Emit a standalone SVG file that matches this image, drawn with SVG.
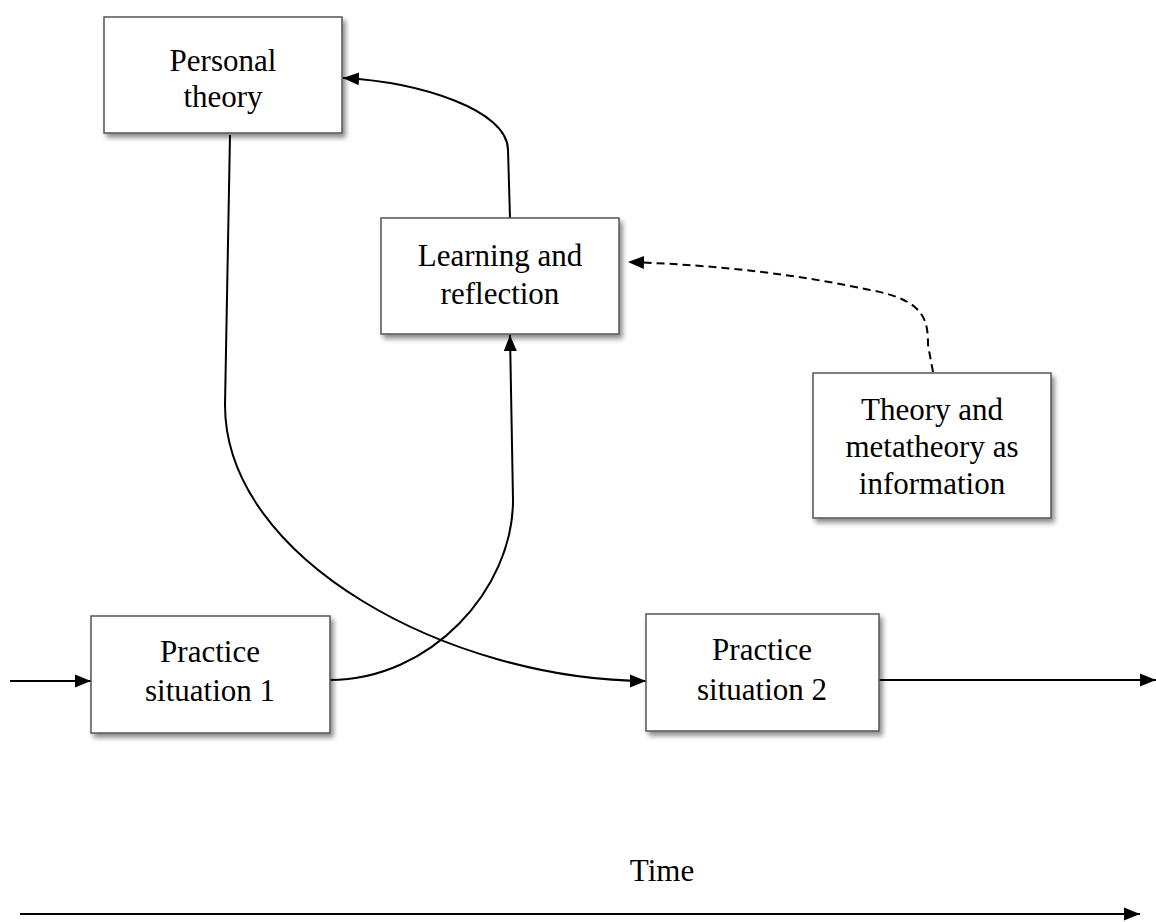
<svg xmlns="http://www.w3.org/2000/svg" width="1156" height="922" viewBox="0 0 1156 922">
<style>
.box{fill:#fff;stroke:#555;stroke-width:1.5;filter:url(#sh)}
.t{font-family:"Liberation Serif","Times New Roman",serif;font-size:31px;fill:#000;text-anchor:middle}
.c{fill:none;stroke:#000;stroke-width:2}
.d{stroke-dasharray:8,5}
</style>
<defs>
<filter id="sh" x="-10%" y="-10%" width="125%" height="130%">
<feDropShadow dx="3" dy="4" stdDeviation="2.5" flood-color="#000" flood-opacity="0.45"/>
</filter>
<marker id="ahb" viewBox="0 0 16 14" refX="16" refY="7" markerWidth="16" markerHeight="14" markerUnits="userSpaceOnUse" orient="auto">
<path d="M0,0.5 L16,7 L0,13.5 z" fill="#000"/>
</marker>
</defs>
<g id="connectors">
<path class="c" d="M10,681 L91,681" marker-end="url(#ahb)"/>
<path class="c" d="M879,680 L1156,680" marker-end="url(#ahb)"/>
<path class="c" d="M330,680 C430,680 513,590 513,500 L510,335" marker-end="url(#ahb)"/>
<path class="c" d="M230,135 L225,405 C225,560 450,680 646,681" marker-end="url(#ahb)"/>
<path class="c" d="M510,218 L508,150 C508,110 420,82 343,78" marker-end="url(#ahb)"/>
<path class="c d" d="M933,372 L928,345 C928,320 925,300 870,290 C800,275 720,265 628,262" marker-end="url(#ahb)"/>
<path class="c" d="M20,914 L1140,914" stroke-width="3" marker-end="url(#ahb)"/>
</g>
<g id="personal-theory">
<rect class="box" x="104" y="17" width="238" height="116"/>
<text class="t" x="223" y="71">Personal</text>
<text class="t" x="223" y="107">theory</text>
</g>
<g id="learning-reflection">
<rect class="box" x="381" y="218" width="238" height="116"/>
<text class="t" x="500" y="266">Learning and</text>
<text class="t" x="500" y="304">reflection</text>
</g>
<g id="theory-metatheory">
<rect class="box" x="813" y="373" width="238" height="145"/>
<text class="t" x="932" y="420">Theory and</text>
<text class="t" x="932" y="457">metatheory as</text>
<text class="t" x="932" y="494">information</text>
</g>
<g id="practice-1">
<rect class="box" x="91" y="616" width="239" height="117"/>
<text class="t" x="210" y="662">Practice</text>
<text class="t" x="210" y="701">situation 1</text>
</g>
<g id="practice-2">
<rect class="box" x="646" y="614" width="233" height="117"/>
<text class="t" x="762" y="660">Practice</text>
<text class="t" x="762" y="700">situation 2</text>
</g>
<g id="time-label">
<text class="t" x="662" y="881">Time</text>
</g>
</svg>
